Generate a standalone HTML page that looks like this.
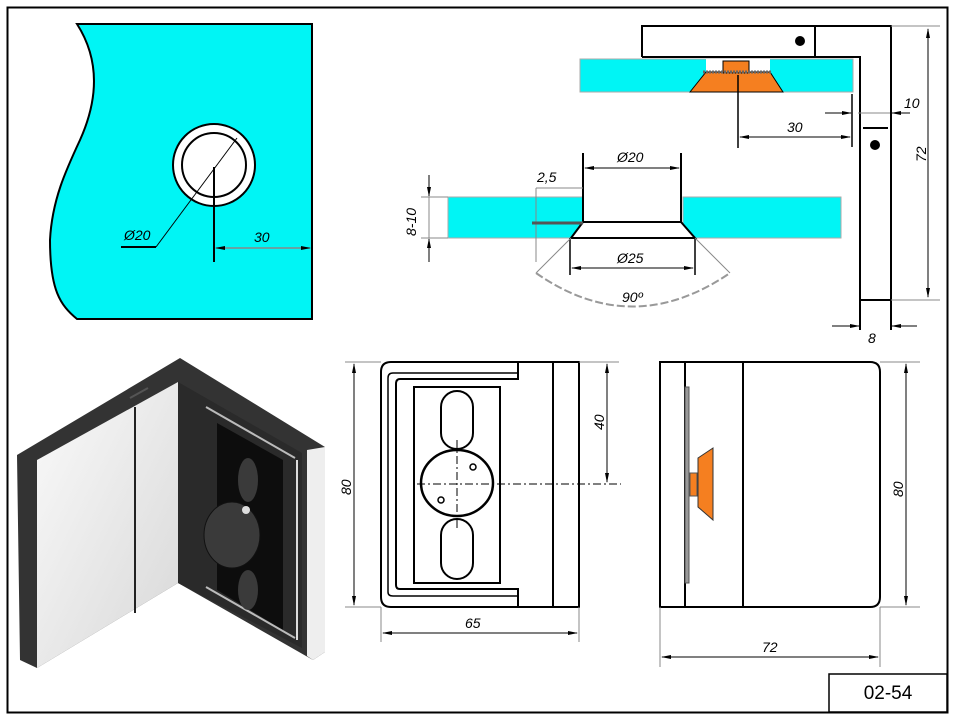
<!DOCTYPE html>
<html><head><meta charset="utf-8"><style>
html,body{margin:0;padding:0;background:#fff;width:957px;height:719px;overflow:hidden}
svg{display:block}
text{font-family:"Liberation Sans",Arial,sans-serif;font-style:italic;font-size:14px;fill:#000}
</style></head><body>
<svg width="957" height="719" viewBox="0 0 957 719" xmlns="http://www.w3.org/2000/svg">
<defs>
<marker id="a" markerWidth="10" markerHeight="6" refX="9" refY="3" orient="auto-start-reverse" markerUnits="userSpaceOnUse"><path d="M0,1 L10,3 L0,5z" fill="#000"/></marker>
<linearGradient id="lg" x1="0" y1="0" x2="1" y2="1"><stop offset="0" stop-color="#fafafa"/><stop offset="1" stop-color="#d8d8d8"/></linearGradient>
</defs>
<rect x="7.5" y="7.5" width="940" height="705" fill="none" stroke="#000" stroke-width="2"/>

<!-- top-left glass -->
<path d="M77,24 L312,24 L312,319 L77,319 C60,305 50,290 50,240 C52,200 66,170 80,140 C98,100 100,60 77,24Z" fill="#00f5f5" stroke="#000" stroke-width="2"/>
<circle cx="214" cy="165" r="41" fill="#fff" stroke="#000" stroke-width="2"/>
<circle cx="214" cy="165" r="32" fill="none" stroke="#000" stroke-width="2"/>
<line x1="237" y1="138" x2="156" y2="247" stroke="#000" stroke-width="1"/>
<line x1="156" y1="247" x2="121" y2="247" stroke="#000" stroke-width="2"/>
<text x="124" y="240">Ø20</text>
<line x1="214" y1="167" x2="214" y2="262" stroke="#000" stroke-width="2"/>
<line x1="216" y1="248" x2="310" y2="248" stroke="#888" stroke-width="1.5" marker-start="url(#a)" marker-end="url(#a)"/>
<text x="254" y="242">30</text>

<!-- top right bracket section -->
<rect x="580" y="59" width="273" height="33" fill="#00f5f5" stroke="#aaa"/>
<rect x="706" y="59" width="64" height="14" fill="#fff"/>
<path d="M690,92 L706,72 L770,72 L783,92Z" fill="#f57f20" stroke="#000"/>
<rect x="723" y="61" width="26" height="12" fill="#f57f20" stroke="#000"/>
<line x1="703" y1="72" x2="772" y2="72" stroke="#666" stroke-width="3" stroke-dasharray="2,1"/>
<path d="M642,57 L642,26 L891,26 L891,300" fill="none" stroke="#000" stroke-width="2"/>
<path d="M815,27 L815,57 L860,57 L860,330" fill="none" stroke="#000" stroke-width="2"/>
<line x1="642" y1="57" x2="815" y2="57" stroke="#000" stroke-width="2"/>
<line x1="891" y1="300" x2="891" y2="330" stroke="#000" stroke-width="2"/>
<line x1="860" y1="300" x2="891" y2="300" stroke="#000" stroke-width="2"/>
<line x1="863" y1="128" x2="888" y2="128" stroke="#000" stroke-width="2"/>
<circle cx="800" cy="41" r="5"/><circle cx="875" cy="145" r="5"/>
<line x1="738" y1="75" x2="738" y2="148" stroke="#000" stroke-width="1.5"/>
<line x1="852" y1="94" x2="852" y2="147" stroke="#000" stroke-width="1.5"/>
<line x1="740" y1="137" x2="850" y2="137" stroke="#000" marker-start="url(#a)" marker-end="url(#a)"/>
<text x="787" y="132">30</text>
<line x1="825" y1="113" x2="851" y2="113" stroke="#000" marker-end="url(#a)"/>
<line x1="910" y1="113" x2="892" y2="113" stroke="#000" marker-end="url(#a)"/>
<line x1="858" y1="113" x2="890" y2="113" stroke="#888"/>
<text x="904" y="108">10</text>
<line x1="891" y1="26" x2="940" y2="26" stroke="#888"/>
<line x1="891" y1="300" x2="940" y2="300" stroke="#888"/>
<line x1="928" y1="29" x2="928" y2="297" stroke="#000" marker-start="url(#a)" marker-end="url(#a)"/>
<text transform="translate(926,162) rotate(-90)">72</text>
<line x1="832" y1="326" x2="859" y2="326" stroke="#000" marker-end="url(#a)"/>
<line x1="917" y1="326" x2="892" y2="326" stroke="#000" marker-end="url(#a)"/>
<text x="868" y="343">8</text>

<!-- middle glass section -->
<rect x="448" y="197" width="135" height="41" fill="#00f5f5" stroke="#aaa"/>
<rect x="683" y="197" width="158" height="41" fill="#00f5f5" stroke="#aaa"/>
<path d="M571,238 L583,222 L681,222 L695,238Z" fill="#fff"/>
<path d="M583,153 L583,222 L571,238 L695,238 L681,222 L681,153" fill="none" stroke="#000" stroke-width="2"/>
<line x1="583" y1="222" x2="681" y2="222" stroke="#000" stroke-width="2"/>
<line x1="585" y1="168" x2="679" y2="168" stroke="#000" marker-start="url(#a)" marker-end="url(#a)"/>
<text x="617" y="162">Ø20</text>
<line x1="570" y1="238" x2="570" y2="275" stroke="#000" stroke-width="1.5"/>
<line x1="695" y1="238" x2="695" y2="275" stroke="#000" stroke-width="1.5"/>
<line x1="572" y1="268" x2="693" y2="268" stroke="#000" marker-start="url(#a)" marker-end="url(#a)"/>
<text x="617" y="263">Ø25</text>
<line x1="695" y1="238" x2="730" y2="273" stroke="#888"/>
<line x1="571" y1="238" x2="536" y2="273" stroke="#888"/>
<path d="M536,273 Q632,340 730,273" fill="none" stroke="#999" stroke-width="2" stroke-dasharray="8,3"/>
<text x="622" y="302">90º</text>
<line x1="421" y1="197" x2="448" y2="197" stroke="#888"/>
<line x1="421" y1="238" x2="448" y2="238" stroke="#888"/>
<line x1="429" y1="175" x2="429" y2="196" stroke="#000" marker-end="url(#a)"/>
<line x1="429" y1="262" x2="429" y2="239" stroke="#000" marker-end="url(#a)"/>
<line x1="429" y1="197" x2="429" y2="238" stroke="#888"/>
<text transform="translate(416,236) rotate(-90)">8-10</text>
<line x1="536" y1="188" x2="583" y2="188" stroke="#888"/>
<line x1="536" y1="188" x2="536" y2="262" stroke="#888"/>
<line x1="532" y1="223" x2="583" y2="223" stroke="#555" stroke-width="3"/>
<text x="537" y="182">2,5</text>

<!-- isometric -->
<path d="M17,455 L180,358 L325,447 L325,652 L313,660 L178,583 L37,668 L20,660Z" fill="#333"/>
<path d="M37,460 L178,382 L178,583 L37,668Z" fill="url(#lg)"/>
<line x1="135" y1="407" x2="135" y2="613" stroke="#222" stroke-width="2"/>
<path d="M178,382 L302,453 L302,648 L178,583Z" fill="#2a2a2a"/>
<path d="M307,450 L325,447 L325,652 L313,660 L307,656Z" fill="#eee"/>
<path d="M217,423 L283,460 L283,630 L217,590Z" fill="#0d0d0d"/>
<line x1="206" y1="407" x2="295" y2="458" stroke="#bbb" stroke-width="2"/>
<line x1="206" y1="587" x2="295" y2="638" stroke="#bbb" stroke-width="2"/>
<line x1="297" y1="460" x2="297" y2="640" stroke="#ddd" stroke-width="2"/>
<ellipse cx="248" cy="480" rx="10" ry="22" fill="#3a3a3a"/>
<ellipse cx="248" cy="590" rx="10" ry="20" fill="#3a3a3a"/>
<ellipse cx="232" cy="535" rx="28" ry="33" fill="#3a3a3a" stroke="#111"/>
<circle cx="246" cy="510" r="4" fill="#ddd"/>
<path d="M130,398 L148,388" stroke="#555" stroke-width="2"/>

<!-- front view -->
<path d="M381,372 Q381,362 391,362 L579,362 L579,607 L391,607 Q381,607 381,597Z" fill="#fff" stroke="#000" stroke-width="2"/>
<line x1="553" y1="362" x2="553" y2="607" stroke="#000" stroke-width="2"/>
<path d="M518,362 L518,379 L400,379 Q396,379 396,384 L396,585 Q396,589 400,589 L518,589 L518,607" fill="none" stroke="#000" stroke-width="2"/>
<path d="M518,373 L393,373 Q388,373 388,378 L388,592 Q388,596 393,596 L518,596" fill="none" stroke="#000" stroke-width="1.5"/>
<rect x="414" y="387" width="86" height="196" fill="none" stroke="#000" stroke-width="2"/>
<rect x="441" y="391" width="32" height="58" rx="16" fill="#fff" stroke="#000" stroke-width="2"/>
<rect x="441" y="519" width="32" height="60" rx="16" fill="#fff" stroke="#000" stroke-width="2"/>
<ellipse cx="457" cy="483" rx="36" ry="33" fill="#fff" stroke="#000" stroke-width="2.5"/>
<circle cx="473" cy="467" r="3" fill="none" stroke="#000" stroke-width="1.5"/>
<circle cx="441" cy="500" r="3" fill="none" stroke="#000" stroke-width="1.5"/>
<line x1="417" y1="484" x2="621" y2="484" stroke="#000" stroke-dasharray="8,3,2,3"/>
<line x1="457" y1="440" x2="457" y2="530" stroke="#000" stroke-dasharray="8,3,2,3"/>
<line x1="345" y1="362" x2="381" y2="362" stroke="#888"/>
<line x1="345" y1="607" x2="381" y2="607" stroke="#888"/>
<line x1="354" y1="364" x2="354" y2="605" stroke="#000" marker-start="url(#a)" marker-end="url(#a)"/>
<text transform="translate(351,495) rotate(-90)">80</text>
<line x1="579" y1="362" x2="619" y2="362" stroke="#888"/>
<line x1="607" y1="364" x2="607" y2="482" stroke="#000" marker-start="url(#a)" marker-end="url(#a)"/>
<text transform="translate(604,430) rotate(-90)">40</text>
<line x1="381" y1="607" x2="381" y2="642" stroke="#888"/>
<line x1="579" y1="607" x2="579" y2="642" stroke="#888"/>
<line x1="383" y1="633" x2="577" y2="633" stroke="#000" marker-start="url(#a)" marker-end="url(#a)"/>
<text x="465" y="628">65</text>

<!-- side view -->
<path d="M660,362 L870,362 Q880,362 880,372 L880,597 Q880,607 870,607 L660,607Z" fill="#fff" stroke="#000" stroke-width="2"/>
<line x1="685" y1="362" x2="685" y2="607" stroke="#000" stroke-width="2"/>
<line x1="743" y1="362" x2="743" y2="607" stroke="#000" stroke-width="2"/>
<rect x="685" y="387" width="4" height="196" fill="#999" stroke="#555"/>
<rect x="690" y="473" width="7" height="23" fill="#f57f20" stroke="#555"/>
<path d="M698,458 L713,448 L713,520 L698,507Z" fill="#f57f20" stroke="#333"/>
<line x1="880" y1="362" x2="920" y2="362" stroke="#888"/>
<line x1="880" y1="607" x2="920" y2="607" stroke="#888"/>
<line x1="906" y1="364" x2="906" y2="605" stroke="#000" marker-start="url(#a)" marker-end="url(#a)"/>
<text transform="translate(903,497) rotate(-90)">80</text>
<line x1="660" y1="607" x2="660" y2="667" stroke="#888"/>
<line x1="880" y1="607" x2="880" y2="667" stroke="#888"/>
<line x1="662" y1="657" x2="878" y2="657" stroke="#000" marker-start="url(#a)" marker-end="url(#a)"/>
<text x="762" y="652">72</text>

<rect x="829" y="674" width="118" height="38" fill="#fff" stroke="#000" stroke-width="1.5"/>
<text x="888" y="699" text-anchor="middle" style="font-style:normal;font-size:19px">02-54</text>
</svg>
</body></html>
